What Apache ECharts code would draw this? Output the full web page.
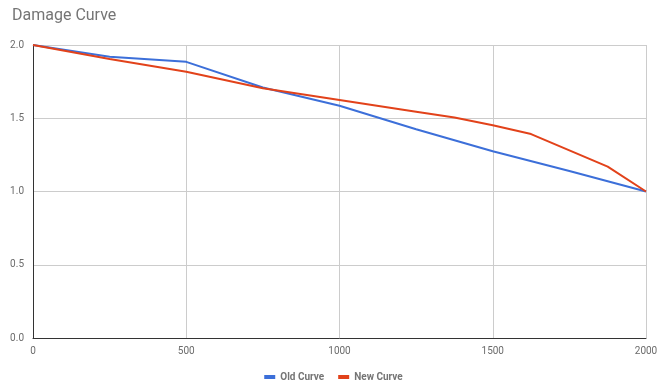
<!DOCTYPE html>
<html>
<head>
<meta charset="utf-8">
<script src="https://cdn.jsdelivr.net/npm/echarts@6/dist/echarts.min.js"></script>
<style>html,body{margin:0;padding:0;background:#fff;}#c{width:667px;height:390px;}</style>
</head>
<body>
<div id="c"></div>
<script>
var oldX = [0, 250, 500, 750, 1000, 1250, 1500, 1750, 2000];
var oldY = [2.0, 1.92, 1.885, 1.71, 1.585, 1.425, 1.275, 1.14, 1.0];
var newX = [0, 250, 500, 750, 1000, 1250, 1375, 1500, 1625, 1875, 2000];
var newY = [2.0, 1.905, 1.818, 1.705, 1.625, 1.545, 1.505, 1.452, 1.392, 1.17, 1.0];
var xTicks = [0, 500, 1000, 1500, 2000];
var yTicks = [0, 0.5, 1.0, 1.5, 2.0];

function pairs(xs, ys) { return xs.map(function (x, i) { return [x, ys[i]]; }); }

var chart = echarts.init(document.getElementById('c'));
chart.setOption({
  backgroundColor: '#ffffff',
  animation: false,
  title: {
    text: 'Damage Curve', left: 7, top: 3,
    textStyle: { fontFamily: 'Roboto', fontSize: 16, fontWeight: 'normal', color: '#757575' }
  },
  legend: {
    bottom: 3, left: 'center', itemWidth: 11, itemHeight: 4, itemGap: 14,
    icon: 'rect',
    textStyle: { fontFamily: 'Roboto', fontSize: 10, fontWeight: 'bold', color: '#757575' },
    data: ['Old Curve', 'New Curve']
  },
  grid: { left: 33, right: 21, top: 45, bottom: 52 },
  xAxis: {
    type: 'value', min: xTicks[0], max: xTicks[xTicks.length - 1], interval: 500,
    axisLine: { show: true, lineStyle: { color: '#333333', width: 1 } },
    axisTick: { show: false },
    axisLabel: { fontFamily: 'Roboto', fontSize: 10, color: '#6b6b6b', margin: 8,
      formatter: function (v) { return String(v); } },
    splitLine: { show: true, lineStyle: { color: '#cccccc' } }
  },
  yAxis: {
    type: 'value', min: yTicks[0], max: yTicks[yTicks.length - 1], interval: 0.5,
    axisLine: { show: true, lineStyle: { color: '#333333', width: 1 } },
    axisTick: { show: false },
    axisLabel: { fontFamily: 'Roboto', fontSize: 10, color: '#6b6b6b', margin: 9,
      formatter: function (v) { return v.toFixed(1); } },
    splitLine: { show: true, lineStyle: { color: '#cccccc' } }
  },
  series: [
    { name: 'Old Curve', type: 'line', data: pairs(oldX, oldY), showSymbol: false, symbol: 'none',
      color: '#3c6fd9', lineStyle: { width: 2, color: '#3c6fd9' }, z: 2 },
    { name: 'New Curve', type: 'line', data: pairs(newX, newY), showSymbol: false, symbol: 'none',
      color: '#e2421a', lineStyle: { width: 2, color: '#e2421a' }, z: 3 }
  ]
});
</script>
</body>
</html>
